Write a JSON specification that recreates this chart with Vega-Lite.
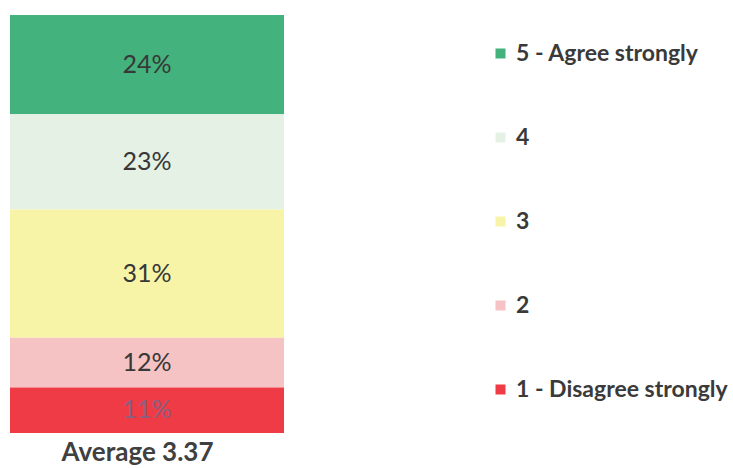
{
  "$schema": "https://vega.github.io/schema/vega-lite/v6.json",
  "width": 274,
  "height": 418,
  "padding": {"left": 10, "top": 15, "right": 0, "bottom": 0},
  "background": "white",
  "config": {"view": {"stroke": null}, "font": "Lato"},
  "data": {
    "values": [
      {"group": "All", "rating": "5 - Agree strongly", "level": 5, "pct": 0.24},
      {"group": "All", "rating": "4", "level": 4, "pct": 0.23},
      {"group": "All", "rating": "3", "level": 3, "pct": 0.31},
      {"group": "All", "rating": "2", "level": 2, "pct": 0.12},
      {"group": "All", "rating": "1 - Disagree strongly", "level": 1, "pct": 0.11}
    ]
  },
  "transform": [
    {"stack": "pct", "groupby": ["group"], "sort": [{"field": "level", "order": "ascending"}], "as": ["y0", "y1"]},
    {"calculate": "(datum.y0 + datum.y1) / 2", "as": "mid"}
  ],
  "encoding": {
    "x": {
      "field": "group",
      "type": "nominal",
      "scale": {"paddingInner": 0, "paddingOuter": 0},
      "axis": {
        "labels": false,
        "ticks": false,
        "domain": false,
        "title": "Average 3.37",
        "titleFont": "Lato",
        "titleFontSize": 26,
        "titleFontWeight": "bold",
        "titleColor": "#404040",
        "titlePadding": 6,
        "titleX": 127,
        "titleAlign": "center"
      }
    }
  },
  "layer": [
    {
      "mark": {"type": "bar"},
      "encoding": {
        "y": {"field": "y0", "type": "quantitative", "scale": {"domain": [0, 1.01], "nice": false, "zero": true}, "axis": null},
        "y2": {"field": "y1"},
        "color": {
          "field": "rating",
          "type": "nominal",
          "sort": ["5 - Agree strongly", "4", "3", "2", "1 - Disagree strongly"],
          "scale": {
            "domain": ["5 - Agree strongly", "4", "3", "2", "1 - Disagree strongly"],
            "range": ["#43b27d", "#e4f1e4", "#f7f4a8", "#f5c3c3", "#ee3b45"]
          },
          "legend": {
            "title": null,
            "orient": "none",
            "legendX": 479,
            "legendY": 27,
            "symbolType": "square",
            "symbolSize": 100,
            "symbolStrokeWidth": 0,
            "labelFont": "Lato",
            "labelFontSize": 23,
            "labelFontWeight": "bold",
            "labelColor": "#3a3a3a",
            "labelOffset": 4,
            "rowPadding": 60,
            "padding": 0,
            "labelLimit": 300
          }
        }
      }
    },
    {
      "mark": {"type": "text", "font": "Lato", "fontSize": 25, "baseline": "middle", "align": "center"},
      "encoding": {
        "y": {"field": "mid", "type": "quantitative"},
        "text": {"field": "pct", "type": "quantitative", "format": ".0%"},
        "color": {
          "condition": {"test": "datum.level == 1", "value": "#8a6080"},
          "value": "#383838"
        }
      }
    }
  ]
}
